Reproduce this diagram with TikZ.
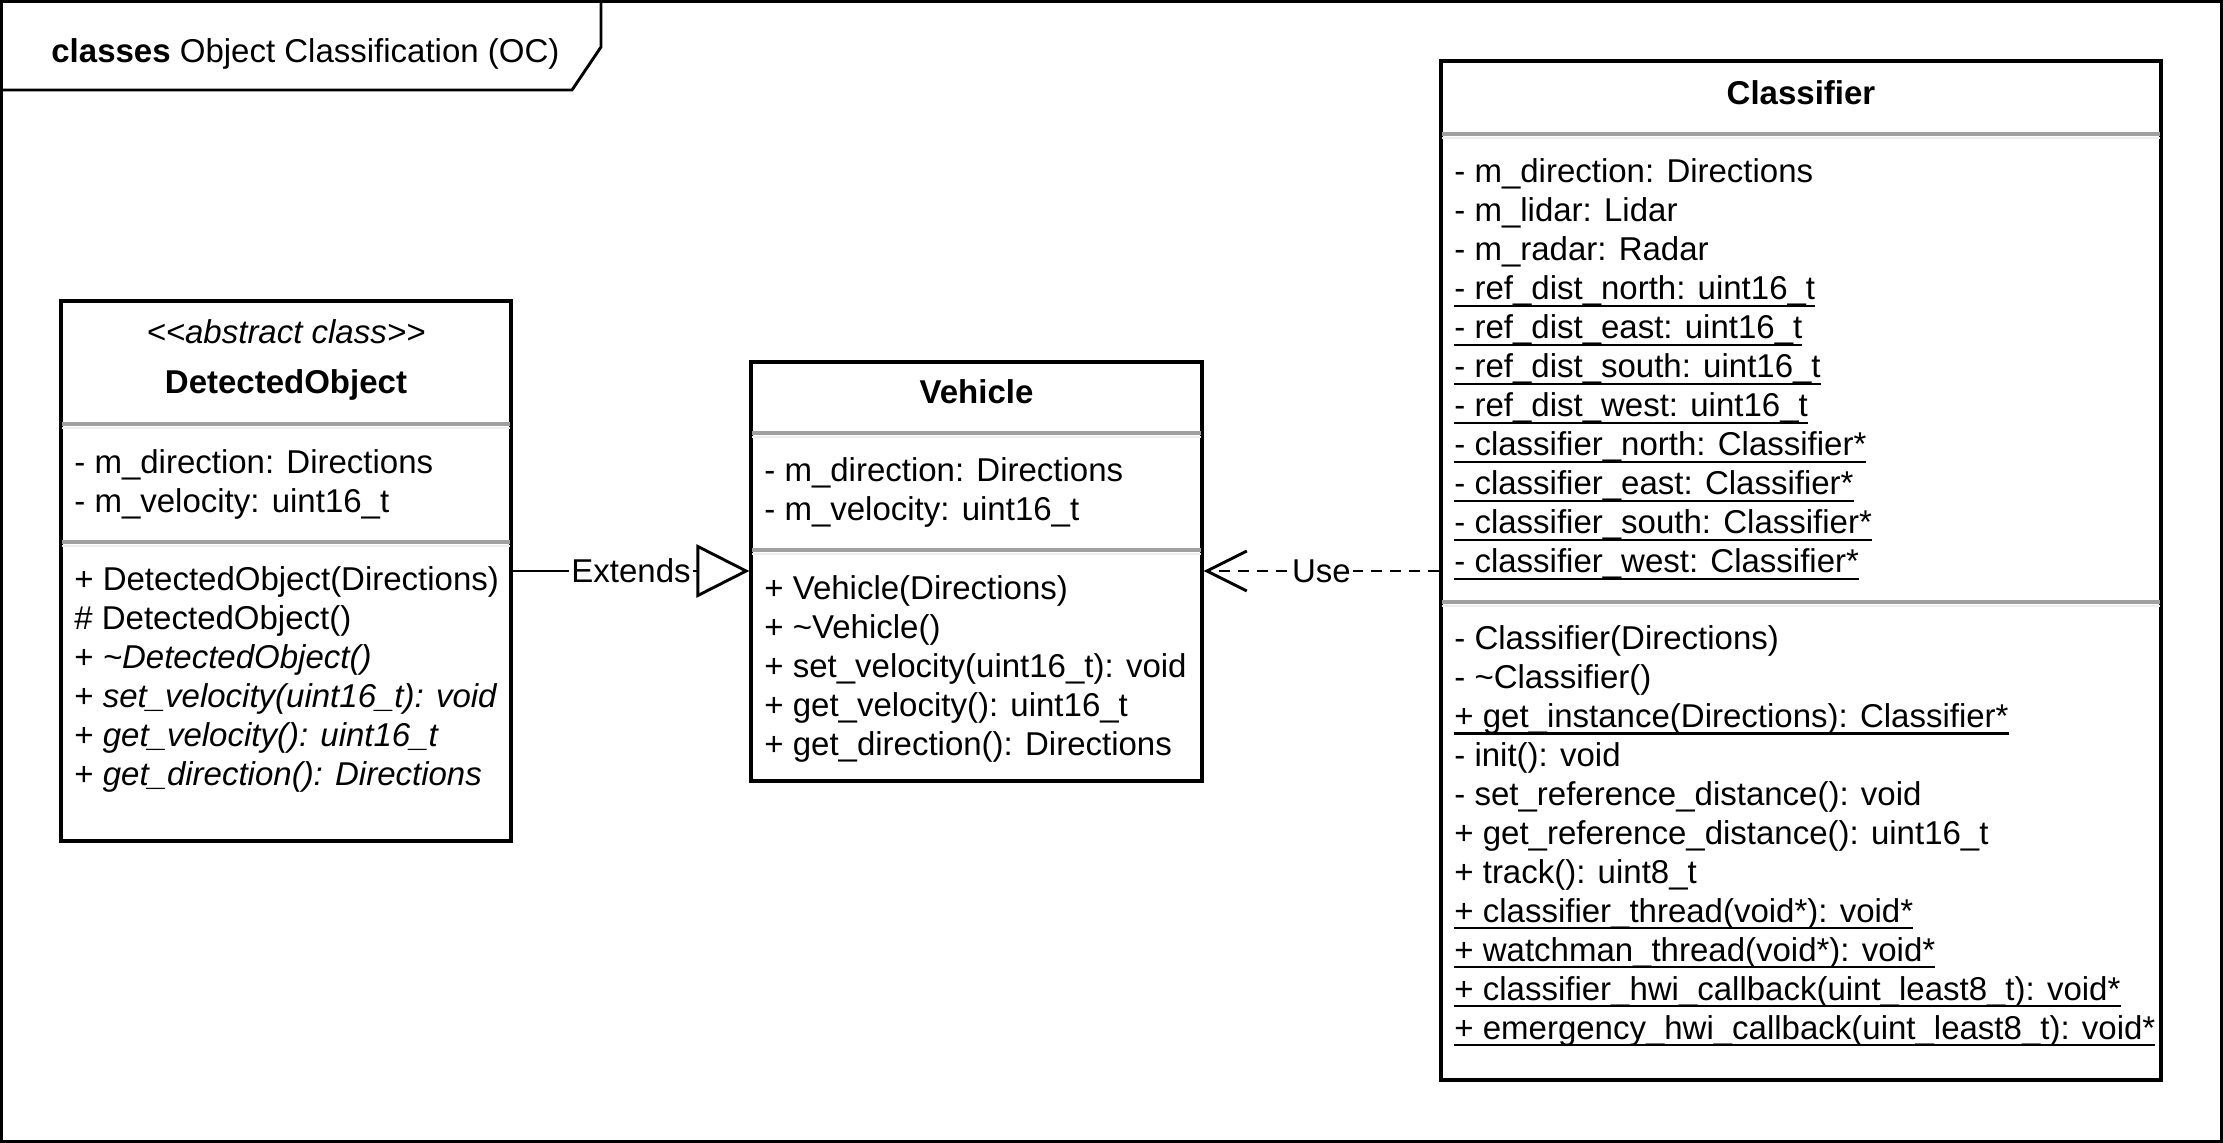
\documentclass[tikz,border=0pt]{standalone}
\usepackage{fontspec}
\setmainfont{Liberation Sans}
\usetikzlibrary{arrows.meta,fit}
\definecolor{sepgray}{HTML}{A0A0A0}
\definecolor{sepshade}{HTML}{EEEEEE}
\newcommand\ulx[1]{\setbox0\hbox{#1}\leavevmode\rlap{\rule[-3.6pt]{\wd0}{1.25pt}}\box0}
\newcommand\tld{\textasciitilde}
\begin{document}
\begin{tikzpicture}[x=0.5pt,y=-0.5pt,
  every node/.style={font=\fontsize{16.5pt}{19.5pt}\selectfont, inner sep=0pt},
  classbox/.style={draw, line width=1.6pt, fill=white},
  sepline/.style={draw=sepgray, line width=1.65pt},
  sepshadow/.style={draw=sepshade, line width=1.4pt},
  member/.style={anchor=base west},
  cname/.style={anchor=base, font=\fontsize{16.5pt}{19.5pt}\selectfont\bfseries},
  lbl/.style={fill=white, inner sep=1pt, midway},
  extends/.style={line width=1.45pt, -{Triangle[open,length=26.5pt,width=26.5pt]}},
  usedep/.style={line width=1.45pt, dash pattern=on 5.5pt off 4pt, -{Straight Barb[length=20pt,width=20pt]}},
  frameline/.style={line width=1.6pt},
  tabline/.style={line width=1.45pt}
]
\useasboundingbox (0,0) rectangle (2223,1143);
\draw[frameline] (1.6,1.6) rectangle (2221.4,1141.4);
\draw[tabline] (601,0) -- (601,47) -- (572,90) -- (0,90);
\node[anchor=base west] (title) at (51,63) {\textbf{classes} Object Classification (OC)};

% DetectedObject
\node[classbox, fit={(61,301) (511,841)}] (det) {};
\draw[sepshadow] (62,428) -- (510,428);
\draw[sepline] (62,424) -- (510,424);
\draw[sepshadow] (62,546) -- (510,546);
\draw[sepline] (62,542) -- (510,542);
\node[anchor=base] (detst) at (286,344) {\itshape <\kern0pt<abstract class>\kern0pt>};
\node[cname] (detn) at (286,394) {DetectedObject};
\foreach \t [count=\i from 0] in {{- m\_direction: Directions},{- m\_velocity: uint16\_t}}
  \node[member] (deta\i) at (74,{474+39*\i}) {\t};
\foreach \t [count=\i from 0] in {{+ DetectedObject(Directions)},{\# DetectedObject()},{+ \textit{\tld DetectedObject()}},{+ \textit{set\_velocity(uint16\_t): void}},{+ \textit{get\_velocity(): uint16\_t}},{+ \textit{get\_direction(): Directions}}}
  \node[member] (detm\i) at (74,{591+39*\i}) {\t};

% Vehicle
\node[classbox, fit={(751,362) (1202,781)}] (veh) {};
\draw[sepshadow] (752,437) -- (1201,437);
\draw[sepline] (752,433) -- (1201,433);
\draw[sepshadow] (752,554) -- (1201,554);
\draw[sepline] (752,550) -- (1201,550);
\node[cname] (vehn) at (976.5,404) {Vehicle};
\foreach \t [count=\i from 0] in {{- m\_direction: Directions},{- m\_velocity: uint16\_t}}
  \node[member] (veha\i) at (764,{482+39*\i}) {\t};
\foreach \t [count=\i from 0] in {{+ Vehicle(Directions)},{+ \tld Vehicle()},{+ set\_velocity(uint16\_t): void},{+ get\_velocity(): uint16\_t},{+ get\_direction(): Directions}}
  \node[member] (vehm\i) at (764,{600+39*\i}) {\t};

% Classifier
\node[classbox, fit={(1441,61) (2161,1080)}] (cls) {};
\draw[sepshadow] (1442,138) -- (2160,138);
\draw[sepline] (1442,134) -- (2160,134);
\draw[sepshadow] (1442,606) -- (2160,606);
\draw[sepline] (1442,602) -- (2160,602);
\node[cname] (clsn) at (1801,105) {Classifier};
\foreach \t [count=\i from 0] in {{- m\_direction: Directions},{- m\_lidar: Lidar},{- m\_radar: Radar},{\ulx{- ref\_dist\_north: uint16\_t}},{\ulx{- ref\_dist\_east: uint16\_t}},{\ulx{- ref\_dist\_south: uint16\_t}},{\ulx{- ref\_dist\_west: uint16\_t}},{\ulx{- classifier\_north: Classifier*}},{\ulx{- classifier\_east: Classifier*}},{\ulx{- classifier\_south: Classifier*}},{\ulx{- classifier\_west: Classifier*}}}
  \node[member] (clsa\i) at (1454,{183+39*\i}) {\t};
\foreach \t [count=\i from 0] in {{- Classifier(Directions)},{- \tld Classifier()},{\ulx{+ get\_instance(Directions): Classifier*}},{- init(): void},{- set\_reference\_distance(): void},{+ get\_reference\_distance(): uint16\_t},{+ track(): uint8\_t},{\ulx{+ classifier\_thread(void*): void*}},{\ulx{+ watchman\_thread(void*): void*}},{\ulx{+ classifier\_hwi\_callback(uint\_least8\_t): void*}},{\ulx{+ emergency\_hwi\_callback(uint\_least8\_t): void*}}}
  \node[member] (clsm\i) at (1454,{650+38.9*\i}) {\t};

% connectors
\draw[extends] (det.east) -- node[lbl] (extlbl) {Extends} (veh.west |- det.east);
\draw[usedep] (cls.west |- det.east) -- node[lbl] (uselbl) {Use} (veh.east |- det.east);
\end{tikzpicture}
\end{document}
